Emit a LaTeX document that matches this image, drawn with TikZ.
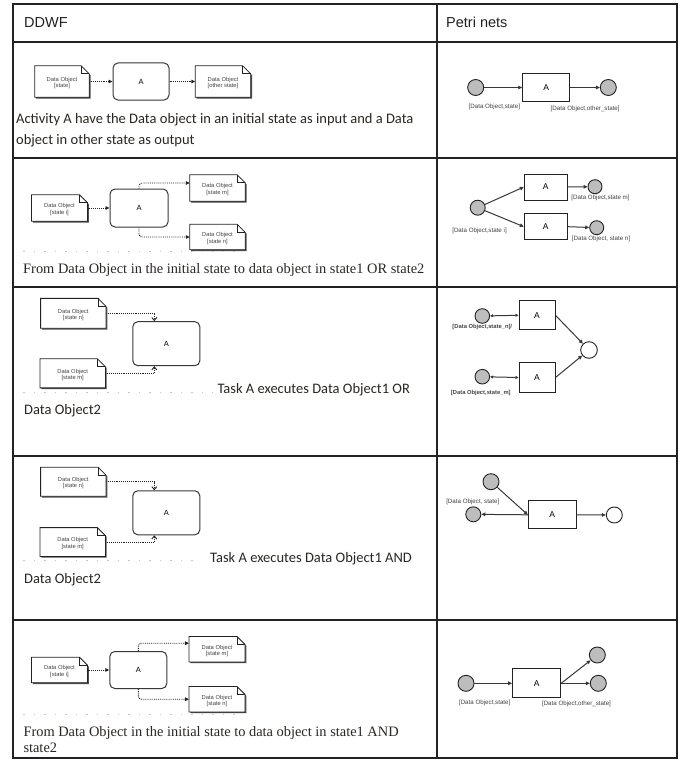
\documentclass[tikz,border=0pt]{standalone}
\usepackage{fontspec}
\setmainfont{Liberation Sans}
\newfontfamily\calibfont{Carlito}
\newfontfamily\timesfont{Liberation Serif}
\usetikzlibrary{arrows.meta,calc}

\definecolor{ink}{HTML}{222222}
\definecolor{placefill}{HTML}{BDBDBD}
\definecolor{captionink}{HTML}{2A2622}

\tikzset{
  grid/.style={line width=1.1pt, draw=ink},
  headtext/.style={anchor=base west, font=\fontsize{14.5}{17}\selectfont, text=ink, inner sep=0pt},
  calibcap/.style={anchor=base west, font=\calibfont\fontsize{14.5}{17}\selectfont, text=captionink, inner sep=0pt},
  timescap/.style={anchor=base west, font=\timesfont\fontsize{14.4}{17}\selectfont, text=captionink, inner sep=0pt},
  docnode/.style={draw=none, inner sep=0pt},
  doctext/.style={align=center, inner sep=0pt, font=\fontsize{5.8}{6.4}\selectfont, text=ink!85},
  docline/.style={draw=ink, line width=0.8pt, fill=white},
  taskbox/.style={draw=ink!90, line width=1pt, rounded corners=5pt, fill=white, font=\fontsize{7.5}{8}\selectfont},
  flow/.style={densely dotted, line width=0.9pt, draw=ink, -{Triangle[length=4pt,width=3.6pt]}},
  flowbarb/.style={densely dotted, line width=0.9pt, draw=ink, -{Straight Barb[length=3pt,width=5pt]}},
  place/.style={circle, draw=ink, line width=0.9pt, fill=placefill, inner sep=0pt, minimum size=16pt},
  openplace/.style={circle, draw=ink, line width=0.9pt, fill=white, inner sep=0pt, minimum size=16pt},
  trans/.style={draw=ink, line width=1pt, fill=white, inner sep=0pt, font=\fontsize{8.5}{9}\selectfont},
  arc/.style={line width=1pt, draw=ink!90, -{Triangle[length=4pt,width=3.6pt]}},
  arcboth/.style={line width=1pt, draw=ink!90, {Triangle[length=3pt,width=3pt]}-{Triangle[length=3pt,width=3pt]}},
  plabel/.style={font=\fontsize{6.2}{7}\selectfont, text=ink!85, inner sep=0pt},
  residue/.style={draw=gray!45, line width=0.8pt, dash pattern=on 1.5pt off 9pt},
}

% BPMN data object: dog-eared sheet with a small drop shadow
% #1 extra options (size), #2 name, #3 centre, #4 state text
\newcommand{\dataobj}[4][]{%
  \node[docnode,#1] (#2) at #3 {};
  \fill[ink!80] ([xshift=1.3pt,yshift=-1.3pt]#2.north west)
    -- ([xshift=-6.7pt,yshift=-1.3pt]#2.north east)
    -- ([xshift=1.3pt,yshift=-9.3pt]#2.north east)
    -- ([xshift=1.3pt,yshift=-1.3pt]#2.south east)
    -- ([xshift=1.3pt,yshift=-1.3pt]#2.south west) -- cycle;
  \draw[docline] (#2.north west) -- ([xshift=-8pt]#2.north east)
    -- ([yshift=-8pt]#2.north east) -- (#2.south east) -- (#2.south west) -- cycle;
  \draw[docline,fill=none] ([xshift=-8pt]#2.north east)
    -- ([xshift=-8pt,yshift=-8pt]#2.north east) -- ([yshift=-8pt]#2.north east);
  \node[doctext] (#2-t) at ([yshift=-1.5pt]#2.center) {Data Object\\{[#4]}};
}

\begin{document}
\begin{tikzpicture}[x=1pt,y=-1pt]
\useasboundingbox[fill=white] (0,0) rectangle (683,760);

% ---------- table ----------
\draw[grid] (13,4) rectangle (677,758);
\draw[grid] (437,4) -- (437,758);
\foreach \yy in {42,158,287,456,620} \draw[grid] (13,\yy) -- (677,\yy);

\node[headtext] (hddwf) at (24,28) {DDWF};
\node[headtext] (hpetri) at (446,28) {Petri nets};

% ---------- row 1 ----------
\dataobj[minimum width=54pt,minimum height=31pt]{d1a}{(62,81.5)}{state}
\node[taskbox,minimum width=56pt,minimum height=37pt] (a1) at (141,81.5) {A};
\dataobj[minimum width=55pt,minimum height=31pt]{d1b}{(223,81.5)}{other state}
\draw[flow] (d1a.east) -- (a1.west);
\draw[flow] (a1.east) -- (d1b.west);
\node[calibcap] (c1a) at (16,123.5) {Activity A have the Data object in an initial state as input and a Data};
\node[calibcap] (c1b) at (16,144.5) {object in other state as output};

\node[place] (p1a) at (475.7,87.5) {};
\node[trans,minimum width=47pt,minimum height=28.5pt] (t1) at (546.3,87.5) {A};
\node[place] (p1b) at (608.3,87.5) {};
\draw[arc] (p1a) -- (t1.west);
\draw[arc] (t1.east) -- (p1b);
\node[plabel] (l1a) at (494.3,107.3) {[Data Object,state]};
\node[plabel] (l1b) at (585.2,109) {[Data Object,other\_state]};

% ---------- row 2 ----------
\dataobj[minimum width=55.6pt,minimum height=26pt]{d2i}{(59.5,208)}{state i}
\node[taskbox,minimum width=58pt,minimum height=38pt] (a2) at (139,208) {A};
\dataobj[minimum width=55pt,minimum height=26pt]{d2m}{(217.5,188)}{state m}
\dataobj[minimum width=55pt,minimum height=25pt]{d2n}{(217.5,237)}{state n}
\draw[flow] (d2i.east) -- (a2.west);
\draw[flow,rounded corners=3pt] (a2.north) |- ([yshift=5pt]d2m.west);
\draw[flow,rounded corners=3pt] (a2.south) |- (d2n.west);
\draw[residue] (23,251.7) -- (240,251.7);
\node[timescap] (c2) at (23,273) {From Data Object in the initial state to data object in state1 OR state2};

\node[place,minimum size=15pt] (p2i) at (477.7,207.7) {};
\node[trans,minimum width=43pt,minimum height=26pt] (t2a) at (545.8,187) {A};
\node[trans,minimum width=43pt,minimum height=26.5pt] (t2b) at (545.8,226.7) {A};
\node[place,minimum size=14pt] (p2m) at (595,186.7) {};
\node[place,minimum size=14pt] (p2n) at (596.7,227.7) {};
\draw[arc] (p2i) -- (t2a.west);
\draw[arc] (p2i) -- (t2b.west);
\draw[arc] (t2a.east) -- (p2m);
\draw[arc] (t2b.east) -- (p2n);
\node[plabel] (l2i) at (479.5,230.7) {[Data Object,state i]};
\node[plabel] (l2m) at (600.5,197.7) {[Data Object,state m]};
\node[plabel] (l2n) at (601,239) {[Data Object, state n]};

% ---------- row 3 ----------
\dataobj[minimum width=65pt,minimum height=29.5pt,doctext/.append style={font=\fontsize{6.5}{7}\selectfont}]{d3n}{(73.3,313.3)}{state n}
\dataobj[minimum width=65pt,minimum height=28.7pt]{d3m}{(72.7,373.3)}{state m}
\node[taskbox,minimum width=67pt,minimum height=44pt] (a3) at (166.3,343.7) {A};
\draw[flowbarb] (d3n.east) -| ([xshift=-12pt]a3.north);
\draw[flowbarb] (d3m.east) -| ([xshift=-12pt]a3.south);
\draw[residue] (23,392) -- (213,392);
\node[calibcap] (c3a) at (217.3,393.5) {Task A executes Data Object1 OR};
\node[calibcap] (c3b) at (24,414.5) {Data Object2};

\node[trans,minimum width=36pt,minimum height=29.3pt] (t3a) at (537,315.3) {A};
\node[trans,minimum width=36pt,minimum height=29.6pt] (t3b) at (537,377.5) {A};
\node[place,minimum size=14.6pt] (p3n) at (482.3,316) {};
\node[place,minimum size=14.6pt] (p3m) at (482.3,376.7) {};
\node[openplace,minimum size=16.6pt] (p3o) at (589,350) {};
\draw[arcboth] (p3n) -- (t3a.west);
\draw[arcboth] (p3m) -- (t3b.west);
\draw[arc] (t3a.east) -- (p3o);
\draw[arc] (t3b.east) -- (p3o);
\node[plabel,font=\bfseries\fontsize{5.8}{7}\selectfont] (l3n) at (482.3,327.3) {[Data Object,state\_n]/};
\node[plabel,font=\bfseries\fontsize{5.8}{7}\selectfont] (l3m) at (480.8,393.3) {[Data Object,state\_m]};

% ---------- row 4 ----------
\dataobj[minimum width=65pt,minimum height=28.7pt]{d4n}{(73.3,481.7)}{state n}
\dataobj[minimum width=65pt,minimum height=28.4pt]{d4m}{(72.7,542)}{state m}
\node[taskbox,minimum width=67pt,minimum height=44pt] (a4) at (166.3,512.8) {A};
\draw[flowbarb] (d4n.east) -| ([xshift=-12pt]a4.north);
\draw[flowbarb] (d4m.east) -| ([xshift=-12pt]a4.south);
\draw[residue] (23,560) -- (200,560);
\node[calibcap] (c4a) at (210,562) {Task A executes Data Object1 AND};
\node[calibcap] (c4b) at (24,583) {Data Object2};

\node[place] (p4t) at (491,481.7) {};
\node[place,minimum size=15pt] (p4l) at (473.3,514.3) {};
\node[trans,minimum width=47.7pt,minimum height=28.3pt] (t4) at (552.2,514.8) {A};
\node[openplace] (p4o) at (614.3,515) {};
\draw[arc] (p4t) -- (t4.west);
\draw[arc] (t4.west) -- (p4l);
\draw[arc] (t4.east) -- (p4o);
\node[plabel] (l4) at (472.8,501.7) {[Data Object, state]};

% ---------- row 5 ----------
\dataobj[minimum width=55.6pt,minimum height=25pt]{d5i}{(59.5,670)}{state i}
\node[taskbox,minimum width=57pt,minimum height=37pt] (a5) at (138.3,670) {A};
\dataobj[minimum width=55.7pt,minimum height=25pt]{d5m}{(217,649.2)}{state m}
\dataobj[minimum width=55.7pt,minimum height=25pt]{d5n}{(217,699.2)}{state n}
\draw[flow] (d5i.east) -- (a5.west);
\draw[flow,rounded corners=3pt] (a5.north) |- ([yshift=6pt]d5m.west);
\draw[flow,rounded corners=3pt] (a5.south) |- (d5n.west);
\draw[residue] (23,714) -- (240,714);
\node[timescap] (c5a) at (23.3,736.3) {From Data Object in the initial state to data object in state1 AND};
\node[timescap] (c5b) at (23.3,752) {state2};

\node[place] (p5i) at (466,683.3) {};
\node[trans,minimum width=48pt,minimum height=28.7pt] (t5) at (536.7,683.3) {A};
\node[place] (p5t) at (597.3,655) {};
\node[place] (p5r) at (598.3,683.3) {};
\draw[arc] (p5i) -- (t5.west);
\draw[arc] (t5.east) -- (p5t);
\draw[arc] (t5.east) -- (p5r);
\node[plabel] (l5i) at (484.7,703.3) {[Data Object,state]};
\node[plabel] (l5o) at (576.5,704.3) {[Data Object,other\_state]};
\end{tikzpicture}
\end{document}
